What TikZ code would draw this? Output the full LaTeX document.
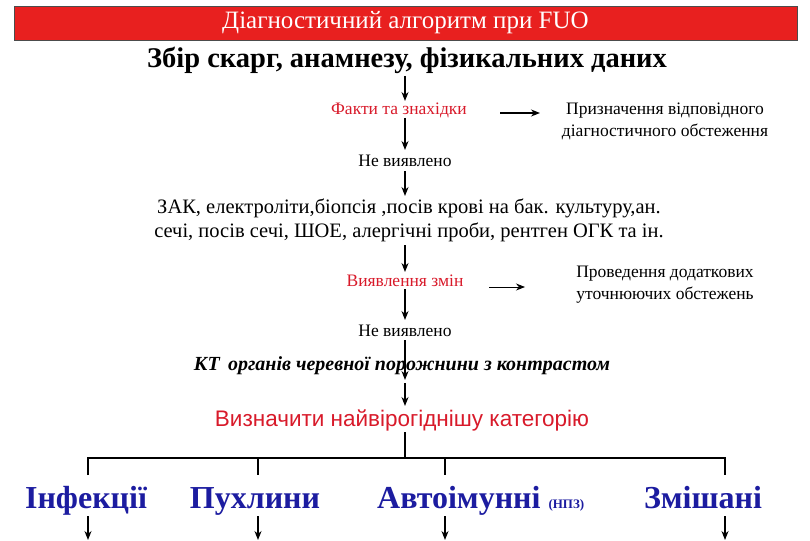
\documentclass[tikz,border=0pt]{standalone}
\usepackage{fontspec}
\setmainfont{Liberation Serif}
\newfontfamily\arialf{Liberation Sans}
\usetikzlibrary{arrows.meta}
\definecolor{tred}{HTML}{E8201F}
\definecolor{tblue}{HTML}{1C1CA0}
\definecolor{lred}{HTML}{D81A2A}
\tikzset{
  ar/.style={-{Stealth[length=9pt,width=7pt]},line width=1.3pt},
  t/.style={inner sep=1pt,align=center},
  cat/.style={t,text=tblue,font=\fontsize{32}{34}\selectfont\bfseries,anchor=base},
}
\begin{document}
\begin{tikzpicture}[x=1pt,y=-1pt]
\useasboundingbox (0,0) rectangle (810,540);
\node[draw=black!70,fill=tred,minimum width=783pt,minimum height=34pt,inner sep=0pt,text=white,font=\fontsize{25}{27}\selectfont] (title) at (405.5,23) {Діагностичний алгоритм при FUO};
\node[t,font=\fontsize{28.5}{30}\selectfont\bfseries] (s1) at (407,60) {Збір скарг, анамнезу, фізикальних даних};
\node[t,text=lred,font=\fontsize{17.5}{19}\selectfont] (f) at (399,110) {Факти та знахідки};
\node[t,font=\fontsize{17.5}{22}\selectfont] (p1) at (665,121) {Призначення відповідного\\діагностичного обстеження};
\node[t,font=\fontsize{17.5}{19}\selectfont] (n1) at (405,161) {Не виявлено};
\node[t,font=\fontsize{20.5}{24}\selectfont] (z) at (409,220) {ЗАК, електроліти,біопсія ,посів крові на бак. культуру,ан.\\сечі, посів сечі, ШОЕ, алергічні проби, рентген ОГК та ін.};
\node[t,text=lred,font=\fontsize{17.5}{19}\selectfont] (v) at (405,281) {Виявлення змін};
\node[t,font=\fontsize{17.5}{22}\selectfont] (p2) at (665,285) {Проведення додаткових\\уточнюючих обстежень};
\node[t,font=\fontsize{17.5}{19}\selectfont] (n2) at (405,331) {Не виявлено};
\node[t,font=\fontsize{20}{22}\selectfont\bfseries\itshape] (kt) at (402,366) {КТ\, органів черевної порожнини з контрастом};
\node[t,text=lred,font=\arialf\fontsize{22.5}{24}\selectfont] (c) at (402,420) {Визначити найвірогіднішу категорію};
\node[cat] (k1) at (86,508) {Інфекції};
\node[cat] (k2) at (255,508) {Пухлини};
\node[cat,anchor=base west] (k3) at (376,508) {Автоімунні {\fontsize{13}{14}\selectfont(НПЗ)}};
\node[cat] (k4) at (703,508) {Змішані};
\coordinate (j) at (405,458);
\draw[ar] (405,76) -- (405,101);
\draw[ar] (405,118) -- (405,150);
\draw[ar] (500,113) -- (540,113);
\draw[ar] (405,171) -- (405,196);
\draw[ar] (405,245) -- (405,272);
\draw[ar,line width=0.9pt] (489,287) -- (525,287);
\draw[ar] (405,289) -- (405,320);
\draw[ar] (405,340) -- (405,380);
\draw[ar] (405,383) -- (405,406);
\draw[line width=1.5pt] (405,432) -- (j);
\draw[line width=1.5pt] (88,475) -- (88,458) -- (725,458) -- (725,475);
\draw[line width=1.5pt] (258,458) -- (258,475);
\draw[line width=1.5pt] (445,458) -- (445,475);
\foreach \x in {88,258,445,725} \draw[ar] (\x,516) -- (\x,540);
\end{tikzpicture}
\end{document}
